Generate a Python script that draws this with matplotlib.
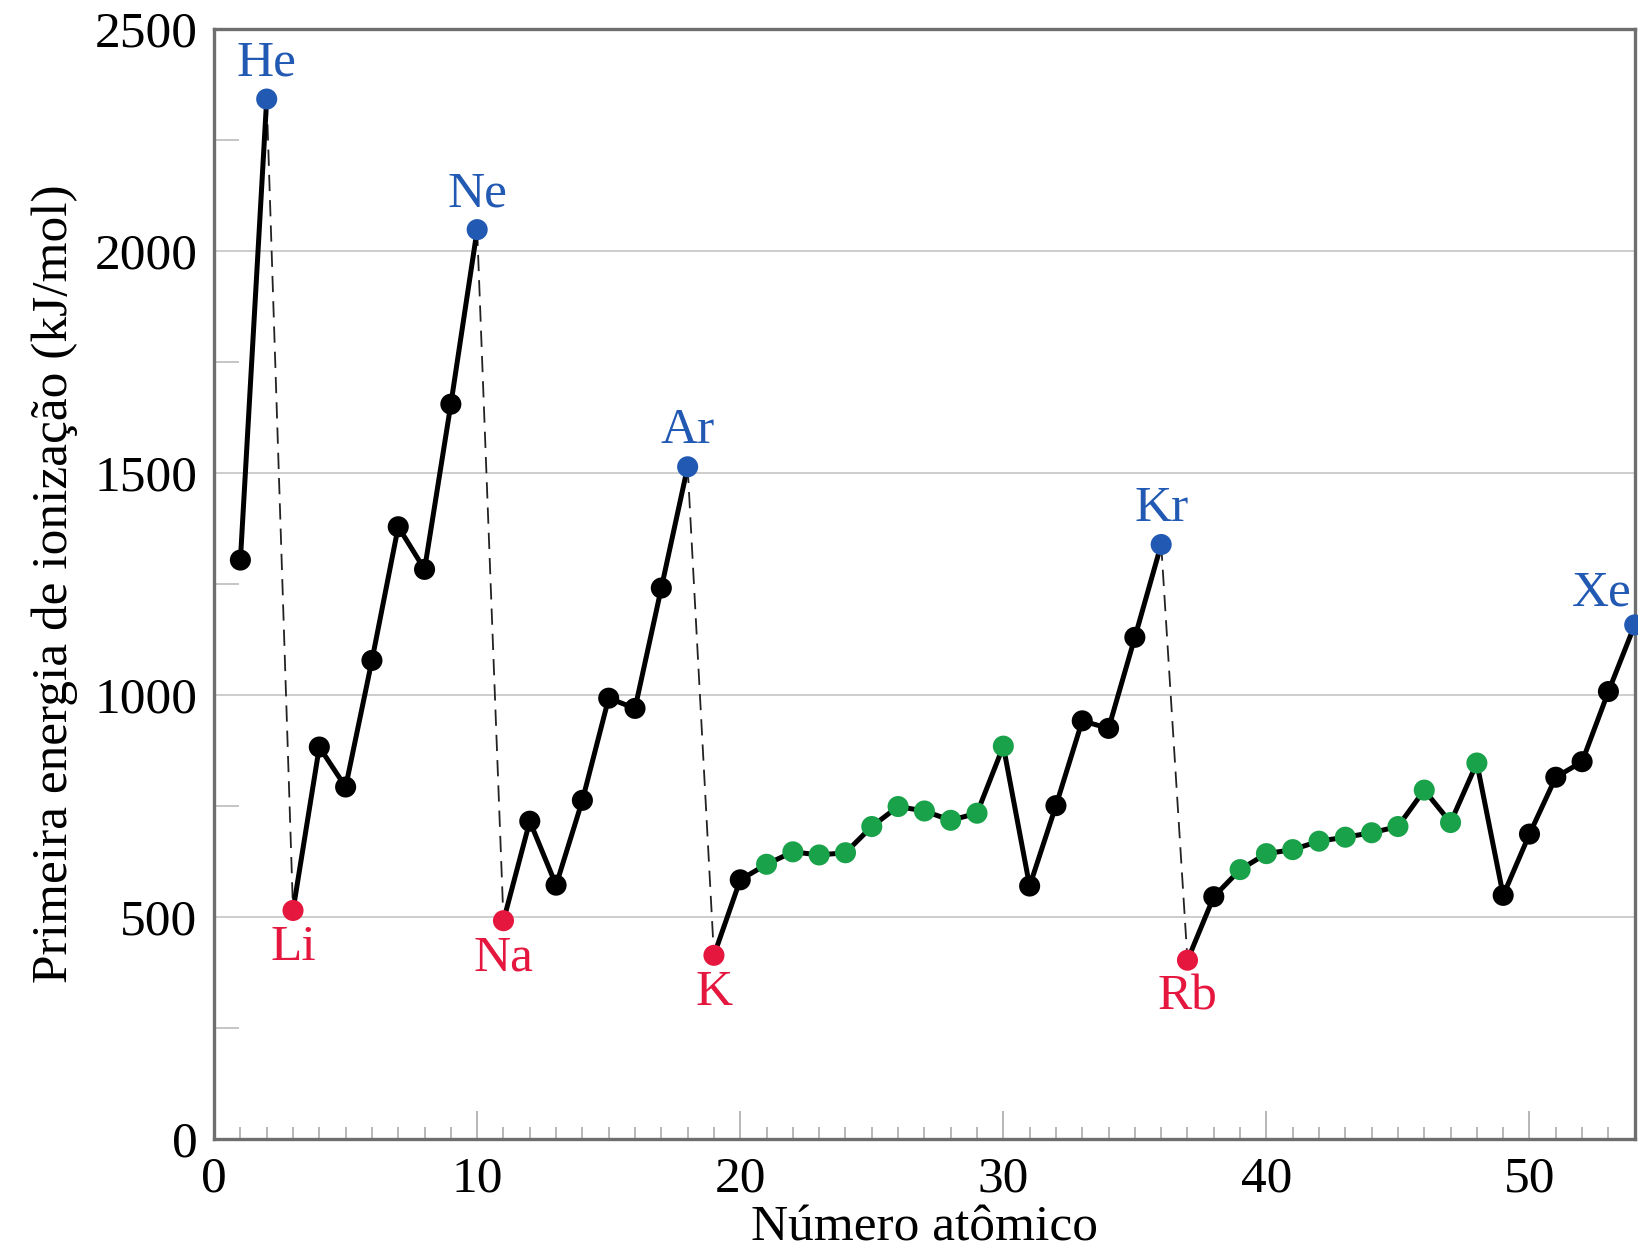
import numpy as np
from matplotlib import pyplot as plt
from matplotlib.ticker import MultipleLocator

# first ionization energies (kJ/mol), Z = 1..54
atomic_number = np.arange(1, 55)
energy = [1304, 2342, 515, 883, 793, 1078, 1379, 1283, 1655, 2048,
          492, 716, 572, 763, 993, 970, 1241, 1514,
          414, 584, 619, 647, 640, 645, 704, 749, 739, 718, 734, 885,
          570, 751, 942, 925, 1130, 1339,
          403, 546, 607, 643, 652, 671, 680, 690, 704, 786, 713, 847,
          549, 687, 815, 850, 1008, 1158]

noble_gases = {2: 'He', 10: 'Ne', 18: 'Ar', 36: 'Kr', 54: 'Xe'}
alkali_metals = {3: 'Li', 11: 'Na', 19: 'K', 37: 'Rb'}
transition_metals = list(range(21, 31)) + list(range(39, 49))
period_starts = [1, 3, 11, 19, 37]
period_ends = [2, 10, 18, 36, 54]

BLUE = '#2159b3'
RED = '#e5173f'
GREEN = '#1aa24b'
SPINE = '#6e6e6e'

plt.rcParams['font.family'] = ['Liberation Serif', 'DejaVu Serif']

fig = plt.figure(figsize=(16.38, 12.56), dpi=100)
ax = fig.add_axes([0.1307, 0.093, 0.8673, 0.884])

energy = np.array(energy)
z = atomic_number

# solid line inside each period
for start, end in zip(period_starts, period_ends):
    sel = (z >= start) & (z <= end)
    ax.plot(z[sel], energy[sel], color='black', lw=3.6, zorder=3)

# thin dashed drop from noble gas to next alkali metal
for end in period_ends[:-1]:
    sel = (z == end) | (z == end + 1)
    ax.plot(z[sel], energy[sel], color='#222222', lw=1.3, ls=(0, (9, 5)), zorder=2)

colors = []
for n in z:
    if n in noble_gases:
        colors.append(BLUE)
    elif n in alkali_metals:
        colors.append(RED)
    elif n in transition_metals:
        colors.append(GREEN)
    else:
        colors.append('black')
ax.scatter(z, energy, s=230, c=colors, zorder=4, linewidths=0, clip_on=False)

for n, name in noble_gases.items():
    dx = -24 if n == 54 else 0
    dy = 6 if n == 54 else 9
    ax.annotate(name, (n, energy[n - 1]), xytext=(dx, dy), textcoords='offset points',
                ha='center', va='bottom', color=BLUE, fontsize=37, zorder=5)
for n, name in alkali_metals.items():
    ax.annotate(name, (n, energy[n - 1]), xytext=(0, -10), textcoords='offset points',
                ha='center', va='top', color=RED, fontsize=37, zorder=5)

ax.set_xlim(0, 54)
ax.set_ylim(0, 2500)
ax.xaxis.set_major_locator(MultipleLocator(10))
ax.xaxis.set_minor_locator(MultipleLocator(1))
ax.yaxis.set_major_locator(MultipleLocator(500))
ax.yaxis.set_minor_locator(MultipleLocator(250))

ax.grid(axis='y', which='major', color='#c9c9c9', lw=1.3, zorder=0)
ax.set_axisbelow(True)

ax.tick_params(axis='x', which='major', direction='in', length=20, width=1.2,
               color='#aaaaaa', labelsize=37, pad=12)
ax.tick_params(axis='x', which='minor', direction='in', length=9, width=1.2, color='#aaaaaa')
ax.tick_params(axis='y', which='major', direction='in', length=0, labelsize=37, pad=12)
ax.tick_params(axis='y', which='minor', direction='in', length=18, width=1.2, color='#bbbbbb')

for spine in ax.spines.values():
    spine.set_color(SPINE)
    spine.set_linewidth(2.4)

ax.set_xlabel('Número atômico', fontsize=37, labelpad=2)
ax.set_ylabel('Primeira energia de ionização (kJ/mol)', fontsize=37, labelpad=12)

fig.savefig('out.png', dpi=100)
